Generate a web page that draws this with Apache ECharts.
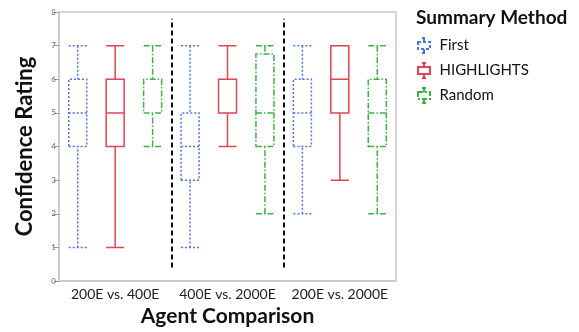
<!DOCTYPE html>
<html>
<head>
<meta charset="utf-8">
<script src="https://cdn.jsdelivr.net/npm/echarts@6/dist/echarts.min.js"></script>
<style>
  html, body { margin: 0; padding: 0; background: #fff; }
  #chart { width: 579px; height: 332px; }
</style>
</head>
<body>
<div id="chart"></div>
<script>
// groups on the x axis
const categories = ['200E vs. 400E', '400E vs. 2000E', '200E vs. 2000E'];
const methods = ['First', 'HIGHLIGHTS', 'Random'];

// [min, Q1, median, Q3, max] per group
const firstBoxes = [[1, 4, 5, 6, 7], [1, 3, 4, 5, 7], [2, 4, 5, 6, 7]];
const highlightsBoxes = [[1, 4, 5, 6, 7], [4, 5, 5, 6, 7], [3, 5, 6, 7, 7]];
const randomBoxes = [[4, 5, 5, 6, 7], [2, 4, 5, 6.75, 7], [2, 4, 5, 6, 7]];

const yTicks = [0, 1, 2, 3, 4, 5, 6, 7, 8];
const separators = [1, 2];

const colors = ['#4d73e6', '#e04455', '#3cb244'];
const dashes = [[2, 2], 'solid', [6, 2, 1.5, 2]];
const legendDashes = [[3, 2], 'solid', [5, 2, 2, 2]];
const allBoxes = [firstBoxes, highlightsBoxes, randomBoxes];

// one slot per (group, method) so each box sits in its own band
const slots = [];
categories.forEach(c => methods.forEach(m => slots.push(c + '|' + m)));

function slotData(boxes, mi) {
  return slots.map((s, i) => (i % 3 === mi ? boxes[Math.floor(i / 3)] : '-'));
}

const hiddenAxis = () => ({
  type: 'category', data: slots, show: false, boundaryGap: true
});

const series = methods.map((m, mi) => ({
  name: m,
  type: 'boxplot',
  xAxisIndex: mi + 1,
  boxWidth: [18, 18],
  data: slotData(allBoxes[mi], mi),
  itemStyle: {
    color: '#fff',
    borderColor: colors[mi],
    borderWidth: 1.5,
    borderType: dashes[mi]
  },
  emphasis: { disabled: true }
}));

// dashed separators between the comparison groups
series.push({
  type: 'scatter',
  xAxisIndex: 4,
  data: [],
  silent: true,
  markLine: {
    symbol: 'none',
    silent: true,
    label: { show: false },
    lineStyle: { color: '#111', width: 2, type: [5, 3] },
    data: separators.map(v => [{ coord: [v, 0.4] }, { coord: [v, 7.8] }])
  }
});

const boxIcon = 'path://M6,0H10M8,0V4M2,4H14V11H2ZM8,11V15M6,15H10';

const chart = echarts.init(document.getElementById('chart'));
chart.setOption({
  animation: false,
  textStyle: { fontFamily: 'Lato, "Open Sans", sans-serif' },
  title: {
    text: 'Summary Method',
    left: 411, top: 3,
    textStyle: { fontSize: 19, fontWeight: 'bold', color: '#111', fontFamily: 'Lato, sans-serif' }
  },
  legend: {
    orient: 'vertical',
    left: 412, top: 32,
    itemWidth: 13, itemHeight: 15, itemGap: 8,
    icon: boxIcon,
    itemStyle: { color: '#fff', borderWidth: 2 },
    textStyle: { fontSize: 15, color: '#111', lineHeight: 16, padding: [0, 0, 0, 4] },
    data: methods.map((m, mi) => ({
      name: m,
      itemStyle: { color: '#fff', borderColor: colors[mi], borderWidth: 2, borderType: legendDashes[mi] }
    }))
  },
  grid: {
    left: 59, right: 183, top: 12, bottom: 47,
    show: true, borderColor: '#c8c8c8', borderWidth: 1.5
  },
  xAxis: [
    {
      type: 'category',
      data: categories,
      name: 'Agent Comparison',
      nameLocation: 'middle',
      nameGap: 25,
      nameTextStyle: { fontSize: 21, fontWeight: 'bold', color: '#111' },
      axisLine: { lineStyle: { color: '#c8c8c8', width: 1.5 } },
      axisTick: { show: false },
      axisLabel: { fontSize: 14, color: '#222', margin: 6, interval: 0, hideOverlap: false }
    },
    hiddenAxis(), hiddenAxis(), hiddenAxis(),
    { type: 'value', min: 0, max: 3, show: false }
  ],
  yAxis: {
    type: 'value',
    min: yTicks[0], max: yTicks[yTicks.length - 1], interval: 1,
    name: 'Confidence Rating',
    nameLocation: 'middle',
    nameGap: 23,
    nameTextStyle: { fontSize: 22, fontWeight: 'bold', color: '#111' },
    axisLine: { show: true, lineStyle: { color: '#c8c8c8', width: 1.5 } },
    axisTick: { show: true, length: 5, lineStyle: { color: '#999' } },
    axisLabel: { fontSize: 8, color: '#666', margin: 3 },
    splitLine: { show: false }
  },
  series: series
});
</script>
</body>
</html>
